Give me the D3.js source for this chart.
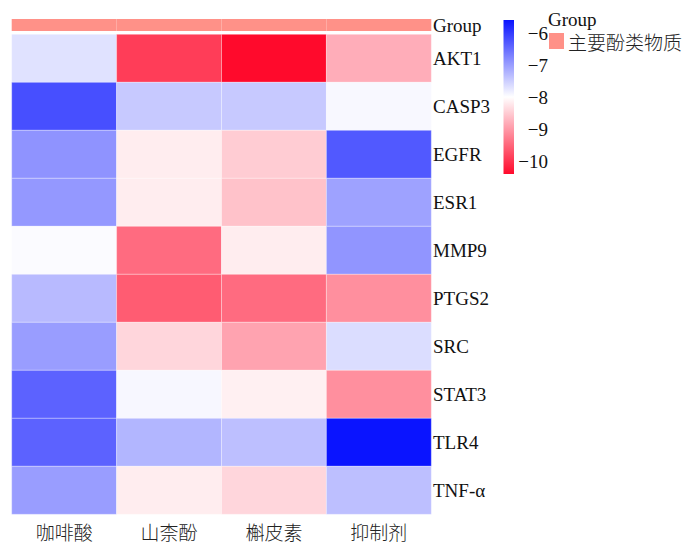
<!DOCTYPE html>
<html>
<head>
<meta charset="utf-8">
<script src="https://cdn.jsdelivr.net/npm/d3@7"></script>
<style>
  html, body { margin: 0; padding: 0; background: #fff; }
  svg { display: block; }
</style>
</head>
<body>
<svg id="chart" width="687" height="544"></svg>
<script>
// Compounds (columns) and target genes (rows)
const compounds = ["咖啡酸", "山柰酚", "槲皮素", "抑制剂"];
const genes = ["AKT1", "CASP3", "EGFR", "ESR1", "MMP9", "PTGS2", "SRC", "STAT3", "TLR4", "TNF-α"];

// Binding energies, one array per compound, in gene order
const caffeicAcid = [-7.7, -6.2, -6.9, -6.95, -7.96, -7.3, -7.0, -6.4, -6.4, -7.0];
const kaempferol  = [-9.9, -7.45, -8.18, -8.18, -9.45, -9.6, -8.4, -7.92, -7.25, -8.18];
const quercetin   = [-10.4, -7.45, -8.5, -8.6, -8.18, -9.45, -8.9, -8.15, -7.35, -8.4];
const inhibitor   = [-8.8, -7.93, -6.3, -7.05, -6.92, -9.1, -7.65, -9.1, -5.6, -7.35];
const seriesValues = [caffeicAcid, kaempferol, quercetin, inhibitor];

// Column annotation
const groupName = "Group";
const groupLevels = ["主要酚类物质"];
const groupOfCompound = ["主要酚类物质", "主要酚类物质", "主要酚类物质", "主要酚类物质"];

// Colour bar ticks
const legendTicks = [-6, -7, -8, -9, -10];

const cells = [];
compounds.forEach((c, ci) => {
  genes.forEach((g, gi) => cells.push({ compound: c, gene: g, value: seriesValues[ci][gi] }));
});

const allVals = cells.map(d => d.value);
const vMin = d3.min(allVals), vMax = d3.max(allVals);
const vMid = (vMin + vMax) / 2;

const color = d3.scaleLinear()
  .domain([vMin, vMid, vMax])
  .range(["#ff0a2c", "#ffffff", "#0a14ff"])
  .interpolate(d3.interpolateRgb);

const groupColor = d3.scaleOrdinal().domain(groupLevels).range(["#ff9188"]);

const svg = d3.select("#chart");
const serif = "'Liberation Serif', 'Times New Roman', serif";
const cjk = "'Noto Sans CJK SC', 'Noto Sans', sans-serif";

const heat = { left: 11.7, right: 431.3, top: 34.3, bottom: 514.3 };
const x = d3.scaleBand().domain(compounds).range([heat.left, heat.right]);
const y = d3.scaleBand().domain(genes).range([heat.top, heat.bottom]);

// Annotation strip
const annTop = 19, annBottom = 31;
svg.append("g").selectAll("rect")
  .data(compounds)
  .join("rect")
  .attr("x", d => x(d))
  .attr("y", annTop)
  .attr("width", x.bandwidth())
  .attr("height", annBottom - annTop)
  .attr("fill", (d, i) => groupColor(groupOfCompound[i]));

svg.append("text")
  .attr("x", 433).attr("y", (annTop + annBottom) / 2 + 7)
  .attr("font-family", serif).attr("font-size", 19)
  .attr("fill", "#111")
  .text(groupName);

// Heatmap cells
svg.append("g").selectAll("rect")
  .data(cells)
  .join("rect")
  .attr("x", d => x(d.compound))
  .attr("y", d => y(d.gene))
  .attr("width", x.bandwidth())
  .attr("height", y.bandwidth())
  .attr("fill", d => color(d.value))
  .attr("stroke", "#ffffff")
  .attr("stroke-opacity", 0.3)
  .attr("stroke-width", 1);

// Row labels
svg.append("g").selectAll("text")
  .data(genes)
  .join("text")
  .attr("x", 433)
  .attr("y", d => y(d) + y.bandwidth() / 2 + 7)
  .attr("font-family", serif).attr("font-size", 19)
  .attr("fill", "#111")
  .text(d => d);

// Column labels
svg.append("g").selectAll("text")
  .data(compounds)
  .join("text")
  .attr("x", d => x(d) + x.bandwidth() / 2)
  .attr("y", 540)
  .attr("text-anchor", "middle")
  .attr("font-family", cjk).attr("font-size", 19)
  .attr("font-weight", 300)
  .attr("fill", "#222")
  .text(d => d);

// Colour bar
const bar = { x: 503.5, w: 10.5, top: 20, bottom: 174 };
const ly = d3.scaleLinear().domain([vMin, vMax]).range([bar.bottom, bar.top]);
const defs = svg.append("defs");
const grad = defs.append("linearGradient")
  .attr("id", "cbar").attr("x1", 0).attr("y1", 1).attr("x2", 0).attr("y2", 0);
d3.range(0, 1.0001, 0.05).forEach(t => {
  grad.append("stop")
    .attr("offset", t)
    .attr("stop-color", color(vMin + t * (vMax - vMin)));
});
svg.append("rect")
  .attr("x", bar.x).attr("y", bar.top)
  .attr("width", bar.w).attr("height", bar.bottom - bar.top)
  .attr("fill", "url(#cbar)");

svg.append("g").selectAll("text")
  .data(legendTicks)
  .join("text")
  .attr("x", 548)
  .attr("y", d => ly(d) + 7)
  .attr("text-anchor", "end")
  .attr("font-family", serif).attr("font-size", 19)
  .attr("fill", "#111")
  .text(d => d3.format("d")(d).replace("-", "\u2212"));

// Annotation legend
svg.append("text")
  .attr("x", 548).attr("y", 26)
  .attr("font-family", serif).attr("font-size", 19)
  .attr("fill", "#111")
  .text(groupName);

const leg = svg.append("g").selectAll("g")
  .data(groupLevels)
  .join("g");
leg.append("rect")
  .attr("x", 549).attr("y", (d, i) => 33 + i * 18)
  .attr("width", 15).attr("height", 16)
  .attr("fill", d => groupColor(d));
leg.append("text")
  .attr("x", 568).attr("y", (d, i) => 49.5 + i * 18)
  .attr("font-family", cjk).attr("font-size", 19)
  .attr("font-weight", 300)
  .attr("fill", "#222")
  .text(d => d);
</script>
</body>
</html>
